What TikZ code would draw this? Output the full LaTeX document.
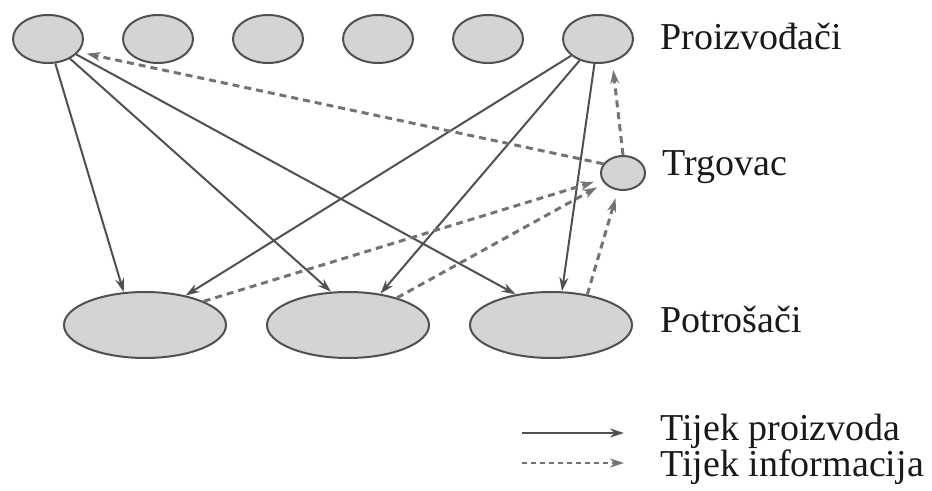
\documentclass[tikz,border=0pt]{standalone}
\usepackage{fontspec}
\setmainfont{Liberation Serif}
\usepackage{tikz}
\usetikzlibrary{shapes.geometric,arrows.meta}
\definecolor{edgegray}{RGB}{80,80,80}
\definecolor{fillgray}{RGB}{211,212,214}
\definecolor{dashgray}{RGB}{115,115,115}
\tikzstyle{proizvodjac}=[ellipse, draw=edgegray, line width=1pt, fill=fillgray, minimum width=35pt, minimum height=24pt, inner sep=0pt]
\tikzstyle{trgovac}=[ellipse, draw=edgegray, line width=1pt, fill=fillgray, minimum width=22pt, minimum height=17pt, inner sep=0pt]
\tikzstyle{potrosac}=[ellipse, draw=edgegray, line width=1pt, fill=fillgray, minimum width=81pt, minimum height=33pt, inner sep=0pt]
\tikzstyle{proizvod}=[line width=1pt, color=edgegray, -{Stealth[length=7pt,width=4.5pt]}]
\tikzstyle{informacija}=[line width=1.5pt, color=dashgray, dash pattern=on 3.5pt off 2.5pt, -{Stealth[length=7pt,width=4.5pt]}, shorten >=4pt]
\tikzstyle{oznaka}=[anchor=base west, inner sep=0pt, text=black!90, font=\fontsize{19}{17}\selectfont]

\begin{document}
\begin{tikzpicture}[x=0.5pt,y=-0.5pt]
\useasboundingbox (0,0) rectangle (932,491);
\foreach \i in {0,...,5}
\node[proizvodjac] (p\i) at ({48+110*\i},39) {};
\node[trgovac] (t) at (623,173) {};
\foreach \i in {0,1,2}
\node[potrosac] (c\i) at ({145+203*\i},325) {};

\node[oznaka] (lp) at (660,50) {Proizvođači};
\node[oznaka] (lt) at (662,176) {Trgovac};
\node[oznaka] (lc) at (660,333) {Potrošači};

\draw[proizvod] (p0) -- (c0.123);
\draw[proizvod] (p0) -- (c1.117);
\draw[proizvod] (p0) -- (c2.139);
\draw[proizvod] (p5) -- (c0.36);
\draw[proizvod] (p5) -- (c1.44);
\draw[proizvod] (p5) -- (c2.72);
\draw[informacija] (c0.22) -- (t);
\draw[informacija] (c1.29) -- (t);
\draw[informacija] (c2.40) -- (t);
\draw[informacija] (t.north) -- (p5.-58);
\draw[informacija] (t.155) -- (p0.-23);

\coordinate (a1) at (522,433);
\coordinate (b1) at (624,433);
\coordinate (a2) at (522,463);
\coordinate (b2) at (624,463);
\draw[proizvod] (a1) -- (b1);
\draw[informacija, line width=1.2pt, dash pattern=on 2.5pt off 2pt, shorten >=0pt] (a2) -- (b2);
\node[oznaka, align=left] (leg) at (660,477) {Tijek proizvoda\\Tijek informacija};
\end{tikzpicture}
\end{document}
